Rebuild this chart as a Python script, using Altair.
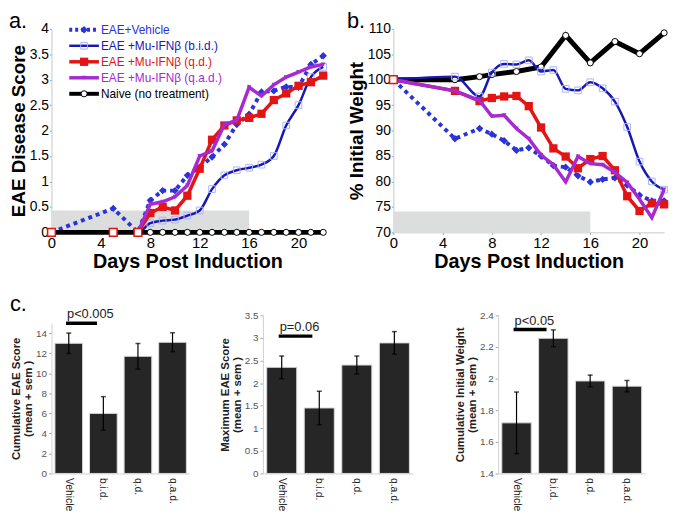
import altair as alt
import pandas as pd

FONT = "Liberation Sans"

# ---------------- panel a / b data ----------------
days = [0, 5, 7, 8, 9, 10, 11, 12, 13, 14, 15, 16, 17, 18, 19, 20, 21, 22]

score_vehicle = [0, 0.47, 0, 0.63, 0.82, 0.82, 1.12, 1.28, 1.48, 1.73, 2.12, 2.32, 2.76, 2.78, 2.86, 2.85, 3.3, 3.47]
score_bid = [0, 0, 0, 0.18, 0.23, 0.25, 0.33, 0.43, 0.85, 1.12, 1.22, 1.27, 1.33, 1.5, 2.1, 2.5, 3.05, 3.25]
score_qd = [0, 0, 0, 0.38, 0.5, 0.43, 0.72, 1.25, 1.82, 2.1, 2.2, 2.25, 2.33, 2.6, 2.73, 2.88, 2.95, 3.08]
score_qad = [0, 0, 0, 0.55, 0.6, 0.7, 0.92, 1.5, 1.6, 2.12, 2.2, 2.85, 2.68, 2.9, 3.05, 3.15, 3.25, 3.3]
score_naive = [0, 0, 0, 0, 0, 0, 0, 0, 0, 0, 0, 0, 0, 0, 0, 0, 0, 0]

weight_vehicle = [100, 88.4, 90.4, 89.3, 88.0, 86.1, 86.6, 85.0, 83.1, 82.8, 81.1, 79.9, 80.4, 80.7, 79.3, 77.3, 76.2, 76.2]
weight_bid = [100, 100.6, 96.7, 101.4, 103.1, 103.0, 103.8, 101.6, 101.9, 98.2, 97.9, 99.5, 98.3, 95.7, 90.7, 83.9, 80.0, 78.4]
weight_qd = [100, 97.8, 95.8, 96.4, 96.7, 96.8, 94.8, 90.6, 86.5, 84.9, 82.6, 84.4, 85.0, 82.2, 77.1, 74.2, 75.7, 75.5]
weight_qad = [100, 97.8, 95.9, 92.8, 93.0, 90.4, 88.4, 85.2, 83.3, 79.9, 84.9, 83.5, 83.3, 81.8, 79.8, 76.5, 72.9, 78.4]
naive_days_b = [0, 5, 7, 8, 10, 12, 14, 16, 18, 20, 22]
weight_naive = [100, 100, 100.6, 101, 101.6, 102.5, 108.7, 103.3, 107.5, 105.1, 109.2]

open_days_a = [0, 5, 7]
open_vals_a = [0, 0, 0]
open_days_b = [0]
open_vals_b = [100]

band_a = {"x": [0], "x2": [16], "y": [0], "y2": [0.43]}
band_b = {"x": [0], "x2": [16], "y": [70], "y2": [74.1]}

series_names = ["EAE+Vehicle", "EAE +Mu-IFN\u03b2 (b.i.d.)", "EAE +Mu-IFN\u03b2 (q.d.)",
                "EAE +Mu-IFN\u03b2 (q.a.d.)", "Naive (no treatment)"]
series_colors = ["#2b33d8", "#1818b0", "#e31414", "#a62ad2", "#000000"]

# ---------------- panel c data ----------------
groups = ["Vehicle", "b.i.d.", "q.d.", "q.a.d."]
cum_mean = [13.0, 6.0, 11.7, 13.1]
cum_sem = [1.02, 1.67, 1.28, 0.95]
max_mean = [2.35, 1.45, 2.4, 2.89]
max_sem = [0.25, 0.37, 0.2, 0.25]
wt_mean = [1.72, 2.255, 1.985, 1.952]
wt_sem = [0.195, 0.053, 0.037, 0.036]
p_labels = ["p<0.005", "p=0.06", "p<0.05"]
p_levels = [15.0, 3.04, 2.31]

# ---------------- styles ----------------
styles = [
    dict(color=series_colors[0], width=4, dash=[4, 4], interp="linear", shape="diamond", size=55,
         pfill=series_colors[0], pstroke=series_colors[0], psw=0),
    dict(color=series_colors[1], width=2.5, dash=None, interp="monotone", shape="square", size=45,
         pfill="transparent", pstroke="#aab3ff", psw=1),
    dict(color=series_colors[2], width=3.5, dash=None, interp="linear", shape="square", size=70,
         pfill=series_colors[2], pstroke=series_colors[2], psw=0),
    dict(color=series_colors[3], width=3.5, dash=None, interp="linear", shape="triangle-down", size=22,
         pfill=series_colors[3], pstroke=series_colors[3], psw=0),
    dict(color="black", width=5, dash=None, interp="linear", shape="circle", size=38,
         pfill="white", pstroke="black", psw=1),
]


def axis_common(**kw):
    base = dict(grid=False, labelFont=FONT, titleFont=FONT, labelColor="black", titleColor="black",
                tickSize=2, tickColor="#999999", domainColor="#c8c8c8", labelPadding=1,
                titlePadding=1, titleFontWeight="bold", labelFlush=False, labelOverlap=False)
    base.update(kw)
    return alt.Axis(**base)


def series_layers(df_days, vals, st, X, Y):
    df = pd.DataFrame({"day": df_days, "value": vals})
    mk = dict(color=st["color"], strokeWidth=st["width"], interpolate=st["interp"])
    if st["dash"]:
        mk["strokeDash"] = st["dash"]
    line = alt.Chart(df).mark_line(**mk).encode(x=X, y=Y)
    pts = alt.Chart(df).mark_point(shape=st["shape"], size=st["size"], filled=True,
                                   fill=st["pfill"], stroke=st["pstroke"],
                                   strokeWidth=st["psw"], opacity=1).encode(x=X, y=Y)
    return [line, pts]


def panel_label(text, dx, dy, size=22):
    return alt.Chart(pd.DataFrame({"t": [text]})).mark_text(
        align="left", baseline="alphabetic", fontSize=size, font=FONT, color="black"
    ).encode(x=alt.value(dx), y=alt.value(dy), text="t:N")


# ---------------- panel a ----------------
xs_a = alt.Scale(domain=[0, 22], nice=False)
ys_a = alt.Scale(domain=[0, 4], nice=False)
xax_a = axis_common(values=[0, 4, 8, 12, 16, 20], title="Days Post Induction",
                    titleFontSize=20, labelFontSize=15, titlePadding=2)
yax_a = axis_common(values=[0, 0.5, 1, 1.5, 2, 2.5, 3, 3.5, 4], format="~g",
                    title="EAE Disease Score", titleFontSize=19, labelFontSize=14)
Xa = alt.X("day:Q", scale=xs_a, axis=xax_a)
Ya = alt.Y("value:Q", scale=ys_a, axis=yax_a)

band_a_chart = alt.Chart(pd.DataFrame(band_a)).mark_rect(color="#dcdddd").encode(
    x=alt.X("x:Q", scale=xs_a, axis=xax_a), x2="x2:Q",
    y=alt.Y("y:Q", scale=ys_a, axis=yax_a), y2="y2:Q")

a_layers = [band_a_chart]
score_series = [score_vehicle, score_bid, score_qd, score_qad]
for i in range(4):
    a_layers += series_layers(days, score_series[i], styles[i], Xa, Ya)
a_layers += series_layers(days, score_naive, styles[4], Xa, Ya)
a_layers.append(alt.Chart(pd.DataFrame({"day": open_days_a, "value": open_vals_a})).mark_point(
    shape="square", size=60, filled=True, fill="white", stroke="#e31414", strokeWidth=1.5, opacity=1
).encode(x=Xa, y=Ya))

# legend inside panel a
for i in range(5):
    st = styles[i]
    yy = 1 + 16.2 * i
    ld = pd.DataFrame({"t": [series_names[i]]})
    mk = dict(color=st["color"], strokeWidth=min(st["width"], 4))
    if st["dash"]:
        mk["strokeDash"] = [3, 3]
    a_layers.append(alt.Chart(ld).mark_rule(**mk).encode(
        x=alt.value(18), x2=alt.value(48), y=alt.value(yy)))
    a_layers.append(alt.Chart(ld).mark_point(shape=st["shape"], size=st["size"], filled=True,
                                             fill=st["pfill"], stroke=st["pstroke"],
                                             strokeWidth=st["psw"], opacity=1).encode(
        x=alt.value(33), y=alt.value(yy)))
    a_layers.append(alt.Chart(ld).mark_text(align="left", baseline="middle", fontSize=12,
                                            font=FONT, color=st["color"]).encode(
        x=alt.value(50), y=alt.value(yy), text="t:N"))

a_layers.append(panel_label("a.", -43, -1, 22))
panel_a = alt.layer(*a_layers).properties(width=275, height=206)

# ---------------- panel b ----------------
xs_b = alt.Scale(domain=[0, 22], nice=False)
ys_b = alt.Scale(domain=[70, 110], nice=False, zero=False)
xax_b = axis_common(values=[0, 4, 8, 12, 16, 20], title="Days Post Induction",
                    titleFontSize=20, labelFontSize=15, titlePadding=2)
yax_b = axis_common(values=[70, 75, 80, 85, 90, 95, 100, 105, 110],
                    title="% Initial Weight", titleFontSize=19, labelFontSize=14)
Xb = alt.X("day:Q", scale=xs_b, axis=xax_b)
Yb = alt.Y("value:Q", scale=ys_b, axis=yax_b)

band_b_chart = alt.Chart(pd.DataFrame(band_b)).mark_rect(color="#dcdddd").encode(
    x=alt.X("x:Q", scale=xs_b, axis=xax_b), x2="x2:Q",
    y=alt.Y("y:Q", scale=ys_b, axis=yax_b), y2="y2:Q")

b_layers = [band_b_chart]
b_layers += series_layers(naive_days_b, weight_naive, styles[4], Xb, Yb)
weight_series = [weight_vehicle, weight_bid, weight_qd, weight_qad]
for i in [1, 0, 2, 3]:
    b_layers += series_layers(days, weight_series[i], styles[i], Xb, Yb)
b_layers.append(alt.Chart(pd.DataFrame({"day": open_days_b, "value": open_vals_b})).mark_point(
    shape="square", size=60, filled=True, fill="white", stroke="#e31414", strokeWidth=1.5, opacity=1
).encode(x=Xb, y=Yb))
b_layers.append(panel_label("b.", -47, -1, 22))
panel_b = alt.layer(*b_layers).properties(width=274, height=206)


# ---------------- panel c ----------------
def bar_panel(means, sems, base, domain, ticks, title1, plabel, plevel, width, height, yrange, label=None):
    df = pd.DataFrame({"group": groups, "mean": means,
                       "lo": [m - s for m, s in zip(means, sems)],
                       "hi": [m + s for m, s in zip(means, sems)],
                       "base": [base] * len(groups)})
    xscale = alt.Scale(domain=groups, paddingInner=0.2, paddingOuter=0.1)
    yscale = alt.Scale(domain=domain, nice=False, zero=False, range=yrange)
    xaxis = alt.Axis(labelAngle=90, labelFontSize=10.5, labelFont=FONT, labelColor="#222222",
                     title=None, tickSize=0, domainColor="#d0d0d0", labelPadding=4,
                     grid=False, labelOverlap=False)
    yaxis = alt.Axis(values=ticks, format="~g", labelFontSize=10, labelFont=FONT,
                     labelColor="#555555", tickSize=3, tickColor="#aaaaaa",
                     domainColor="#d0d0d0", title=[title1, "(mean + sem )"],
                     titleFontSize=11.5, titleFont=FONT, titleFontWeight="bold",
                     titleColor="#222222", titlePadding=2, labelPadding=2, grid=False,
                     titleLineHeight=12, labelOverlap=False)
    X = alt.X("group:N", scale=xscale, axis=xaxis)
    bars = alt.Chart(df).mark_bar(color="#262626", stroke="#d9d9d9", strokeWidth=1).encode(
        x=X, y=alt.Y("mean:Q", scale=yscale, axis=yaxis), y2="base:Q")
    err = alt.Chart(df).mark_rule(color="black", strokeWidth=1.2).encode(
        x=X, y=alt.Y("lo:Q", scale=yscale, axis=yaxis), y2="hi:Q")
    cap_lo = alt.Chart(df).mark_tick(color="black", size=5, thickness=1.5).encode(
        x=X, y=alt.Y("lo:Q", scale=yscale, axis=yaxis))
    cap_hi = alt.Chart(df).mark_tick(color="black", size=5, thickness=1.5).encode(
        x=X, y=alt.Y("hi:Q", scale=yscale, axis=yaxis))
    pdf = pd.DataFrame({"a": ["Vehicle"], "b": ["b.i.d."], "lvl": [plevel], "t": [plabel]})
    pline = alt.Chart(pdf).mark_rule(color="black", strokeWidth=3.5).encode(
        x=alt.X("a:N", scale=xscale, axis=xaxis, bandPosition=0.4),
        x2=alt.X2("b:N", bandPosition=0.27),
        y=alt.Y("lvl:Q", scale=yscale, axis=yaxis))
    ptext = alt.Chart(pdf).mark_text(align="left", baseline="bottom", dy=-2, dx=1, fontSize=13,
                                     font=FONT, color="#222222").encode(
        x=alt.X("a:N", scale=xscale, axis=xaxis, bandPosition=0.4),
        y=alt.Y("lvl:Q", scale=yscale, axis=yaxis), text="t:N")
    layers = [bars, err, cap_lo, cap_hi, pline, ptext]
    if label:
        layers.append(alt.Chart(pd.DataFrame({"t": [label]})).mark_text(
            align="left", baseline="alphabetic", fontSize=22, font=FONT, color="black"
        ).encode(x=alt.value(-42), y=alt.value(-4), text="t:N"))
    return alt.layer(*layers).properties(width=width, height=height)


c1 = bar_panel(cum_mean, cum_sem, 0, [0, 15], [0, 2, 4, 6, 8, 10, 12, 14],
               "Cumulative EAE Score", p_labels[0], p_levels[0], 140, 160, [160, 8], label="c.")
c2 = bar_panel(max_mean, max_sem, 0, [0, 3.5], [0, 0.5, 1, 1.5, 2, 2.5, 3, 3.5],
               "Maximum EAE Score", p_labels[1], p_levels[1], 152, 160, [160, 0])
c3 = bar_panel(wt_mean, wt_sem, 1.4, [1.4, 2.4], [1.4, 1.6, 1.8, 2.0, 2.2, 2.4],
               "Cumulative Initial Weight", p_labels[2], p_levels[2], 149, 160, [160, 0])

top = alt.hconcat(panel_a, panel_b, spacing=12)
bottom = alt.hconcat(alt.hconcat(c1, c2, spacing=28), c3, spacing=40)
chart = alt.vconcat(top, bottom, spacing=20).properties(
    padding={"left": 0, "top": -2, "right": 0, "bottom": 0}
).configure(font=FONT).configure_view(stroke="transparent")

chart.save("out.html", embed_options={"renderer": "svg", "actions": False})
